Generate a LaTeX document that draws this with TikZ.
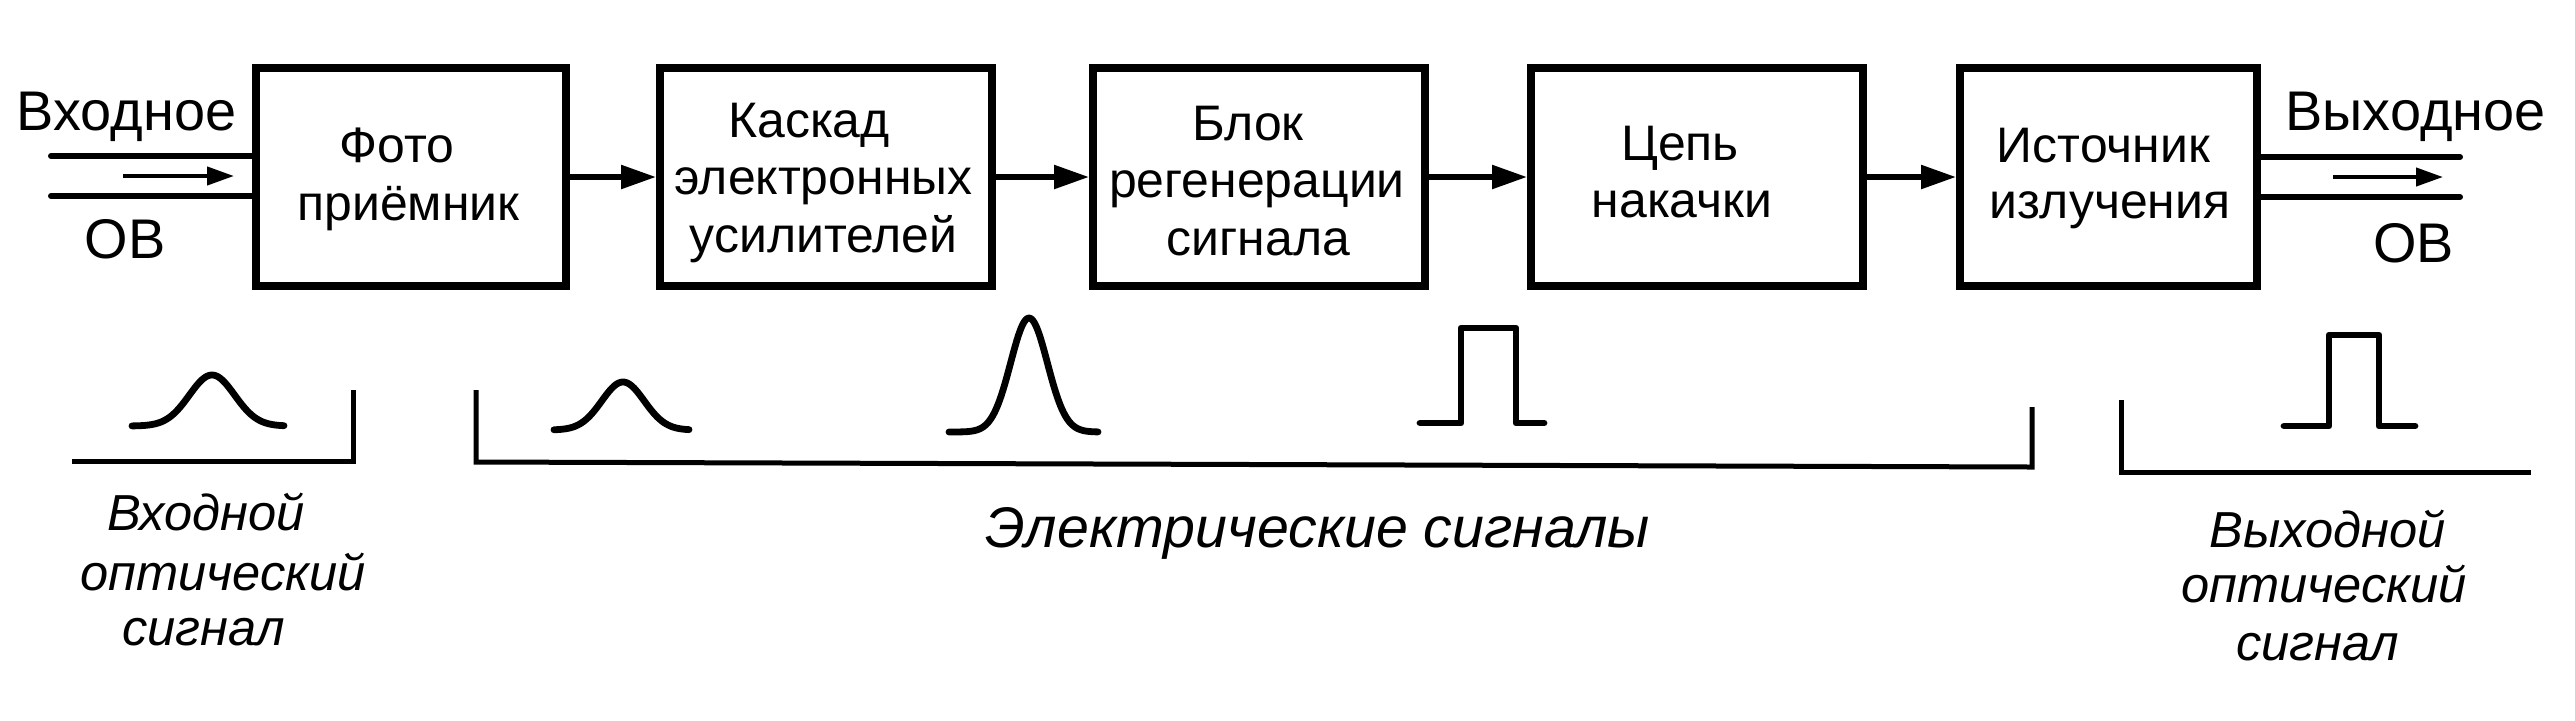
\documentclass[tikz,border=0pt]{standalone}
\usepackage{fontspec}
\setmainfont{Liberation Sans}
\usetikzlibrary{arrows.meta}
\begin{document}
\begin{tikzpicture}[x=0.1mm,y=-0.1mm,
  blk/.style={draw, line width=0.8mm, inner sep=0pt, minimum height=21.8mm},
  txt/.style={anchor=base, inner sep=0pt, font=\fontsize{14.2}{16}\selectfont},
  lab/.style={anchor=base, inner sep=0pt, font=\fontsize{15.9}{18}\selectfont},
  itl/.style={anchor=base, inner sep=0pt, font=\fontsize{14.4}{16}\selectfont\itshape},
  itb/.style={anchor=base, inner sep=0pt, font=\fontsize{16.3}{19}\selectfont\itshape},
  conn/.style={line width=0.55mm, -{Triangle[length=3.5mm,width=2.3mm]}},
  fiber/.style={line width=0.6mm, line cap=round},
  flow/.style={line width=0.42mm, -{Triangle[length=2.7mm,width=1.8mm]}},
  pulse/.style={line width=0.68mm, line cap=round, line join=round},
  brk/.style={line width=0.5mm, line join=miter}
]
\useasboundingbox (0,0) rectangle (2575,720);
\fill[white] (0,0) rectangle (2575,720);

% blocks
\node[blk, minimum width=31.0mm] (b1) at (411,177) {};
\node[blk, minimum width=33.2mm] (b2) at (826,177) {};
\node[blk, minimum width=33.2mm] (b3) at (1259,177) {};
\node[blk, minimum width=33.2mm] (b4) at (1697,177) {};
\node[blk, minimum width=29.7mm] (b5) at (2108.5,177) {};

% block texts
\node[txt] (t1a) at (397,162) {Фото};
\node[txt] (t1b) at (408.5,220) {приёмник};
\node[txt] (t2a) at (809,137) {Каскад};
\node[txt] (t2b) at (823.5,194) {электронных};
\node[txt] (t2c) at (823.5,252) {усилителей};
\node[txt] (t3a) at (1248,140) {Блок};
\node[txt] (t3b) at (1257,197) {регенерации};
\node[txt] (t3c) at (1258.5,255) {сигнала};
\node[txt] (t4a) at (1680,160) {Цепь};
\node[txt] (t4b) at (1682,217) {накачки};
\node[txt] (t5a) at (2103.5,162) {Источник};
\node[txt] (t5b) at (2110,218) {излучения};

% connectors
\draw[conn] (b1.east) -- (b2.west);
\draw[conn] (b2.east) -- (b3.west);
\draw[conn] (b3.east) -- (b4.west);
\draw[conn] (b4.east) -- (b5.west);

% input fiber
\coordinate (iu) at (51,156);
\coordinate (il) at (51,196);
\draw[fiber] (iu) -- (iu -| b1.west);
\draw[fiber] (il) -- (il -| b1.west);
\coordinate (ia) at (123,176);
\coordinate (ib) at (234,176);
\draw[flow] (ia) -- (ib);
\node[lab] (lin) at (126.5,130) {Входное};
\node[lab] (ovin) at (125,258) {ОВ};

% output fiber
\coordinate (ou) at (2460,157);
\coordinate (ol) at (2460,197);
\draw[fiber] (ou -| b5.east) -- (ou);
\draw[fiber] (ol -| b5.east) -- (ol);
\coordinate (oa) at (2333,177);
\coordinate (ob) at (2443,177);
\draw[flow] (oa) -- (ob);
\node[lab] (lout) at (2415.5,130) {Выходное};
\node[lab] (ovout) at (2413.5,262) {ОВ};

% brackets
\draw[brk] (72,461) -- (353,461) -- (353,390);
\draw[brk] (476,390) -- (476,462) -- (2032,467) -- (2032,407);
\draw[brk] (2121,400) -- (2121,472) -- (2531,472);

% pulses
\draw[pulse] plot[domain=132:284, samples=80] (\x, {426-51*exp(-(\x-212)*(\x-212)/1024)});
\draw[pulse] plot[domain=554:689, samples=80] (\x, {430-48*exp(-(\x-623)*(\x-623)/900)});
\draw[pulse] plot[domain=949:1098, samples=100] (\x, {432-114*exp(-(\x-1029)*(\x-1029)/676)});
\draw[pulse] (1420,423) -- (1461,423) -- (1461,328) -- (1516,328) -- (1516,423) -- (1544,423);
\draw[pulse] (2284,426) -- (2329,426) -- (2329,335) -- (2379,335) -- (2379,426) -- (2415,426);

% bottom labels
\node[itl] (s1a) at (206,530) {Входной};
\node[itl] (s1b) at (223,590) {оптический};
\node[itl] (s1c) at (203.5,645) {сигнал};
\node[itb] (s2) at (1317.5,547) {Электрические сигналы};
\node[itl] (s3a) at (2327.5,547) {Выходной};
\node[itl] (s3b) at (2324,602) {оптический};
\node[itl] (s3c) at (2317.5,660) {сигнал};
\end{tikzpicture}
\end{document}
